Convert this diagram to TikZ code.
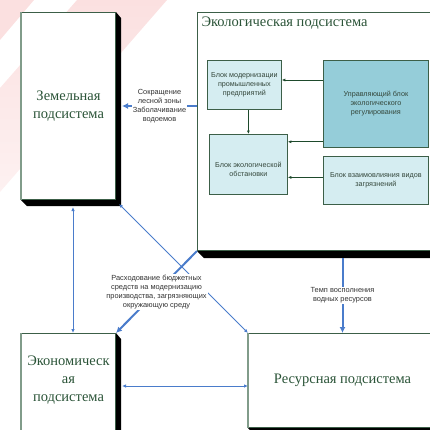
\documentclass[tikz,border=0pt]{standalone}
\usepackage{fontspec}
\setmainfont{Liberation Serif}
\newfontfamily\labelsans{Liberation Sans}
\usetikzlibrary{calc,arrows.meta}

\definecolor{frameGreen}{HTML}{3C5F48}
\definecolor{edgeGreen}{HTML}{819C8A}
\definecolor{titleGreen}{HTML}{2B5438}
\definecolor{linkBlue}{HTML}{4A7CCB}
\definecolor{blockFill}{HTML}{D5EDF1}
\definecolor{ctrlFill}{HTML}{95CDD9}
\definecolor{innerArrow}{HTML}{1E4A2C}
\definecolor{blockText}{HTML}{34473B}
\definecolor{stripe}{HTML}{FBE0E0}
\definecolor{stripeFaint}{HTML}{FDF1F1}

\begin{document}
\begin{tikzpicture}[x=1pt,y=-1pt,
  subsys/.style={draw=frameGreen, line width=1pt, fill=white, inner sep=0pt, anchor=north west},
  captiontext/.style={font=\fontsize{14.5}{18}\selectfont, text=titleGreen, align=center},
  ecoblock/.style={draw=frameGreen, line width=0.8pt, fill=blockFill, inner sep=0pt,
    anchor=north west, font=\labelsans\fontsize{7.2}{9}\selectfont, text=blockText, align=center},
  blocktext/.style={font=\labelsans\fontsize{7.2}{9}\selectfont, text=blockText, align=center},
  innerlink/.style={draw=innerArrow, line width=1pt, -{Latex[length=3.5pt,width=3pt]}},
  bigflow/.style={draw=linkBlue, line width=2pt, -{Latex[length=6pt,width=6pt]}},
  thinlink/.style={draw=linkBlue, line width=0.9pt,
    {Latex[length=4pt,width=3.5pt]}-{Latex[length=4pt,width=3.5pt]}},
  flowlabel/.style={font=\labelsans\fontsize{7.4}{9}\selectfont, text=black!80,
    align=center, fill=white, inner sep=1pt},
  dropband/.style={fill=black},
  leftedge/.style={draw=edgeGreen, line width=1.5pt}
]
\clip (0,0) rectangle (430,429);

% background stripes, fading downwards
\fill[stripe] (0,0) -- (34,0) -- (0,40) -- cycle;
\shade[top color=stripe, bottom color=stripeFaint]
  (77,0) -- (167,0) -- (0,192) -- (0,88) -- cycle;

% subsystem frames
\node[subsys, minimum width=94, minimum height=187] (land) at (21,12) {};
\node[subsys, minimum width=250, minimum height=238] (eco) at (197,12) {};
\node[subsys, minimum width=94, minimum height=110] (econ) at (21,333) {};
\node[subsys, minimum width=188, minimum height=94] (res) at (248,333) {};

% hard drop bands
\fill[dropband] (land.north east) -- ($(land.north east)+(5,6)$) -- ($(land.south east)+(5,6)$)
  -- ($(land.south west)+(6,6)$) -- (land.south west) -- (land.south east) -- cycle;
\fill[dropband] (eco.south west) -- ($(eco.south west)+(7,7)$) -- ($(eco.south east)+(7,7)$)
  -- (eco.south east) -- cycle;
\fill[dropband] (econ.north east) -- ($(econ.north east)+(5,6)$) -- ($(econ.south east)+(5,6)$)
  -- (econ.south east) -- cycle;
\fill[dropband] (res.south west) -- ($(res.south west)+(3,3)$) -- ($(res.south east)+(3,3)$)
  -- (res.south east) -- cycle;

% lighter left edges
\draw[leftedge] (land.north west) -- (land.south west);
\draw[leftedge] (econ.north west) -- (econ.south west);
\draw[leftedge] (res.north west) -- (res.south west);

% subsystem titles
\node[captiontext] (landtitle) at (land.center) {Земельная\\подсистема};
\node[captiontext] (econtitle) at ($(econ.north)+(0,47)$) {Экономическ\\ая\\подсистема};
\node[captiontext] (restitle) at (res.center) {Ресурсная подсистема};
\node[captiontext, anchor=west] (ecotitle) at ($(eco.north west)+(1,11)$) {Экологическая подсистема};

% blocks of the ecological subsystem
\node[ecoblock, minimum width=74, minimum height=49] (mod) at (207,60)
  {Блок модернизации\\промышленных\\предприятий};
\node[ecoblock, fill=ctrlFill, minimum width=105, minimum height=87] (ctrl) at (323,60)
  {Управляющий блок\\экологического\\регулирования};
\node[ecoblock, minimum width=78, minimum height=60] (env) at (209,134) {};
\node[blocktext] (envtext) at ($(env.center)+(0,5)$) {Блок экологической\\обстановки};
\node[ecoblock, minimum width=105, minimum height=48] (mut) at (323,156)
  {Блок взаимовлияния видов\\загрязнений};

% links inside the ecological subsystem
\coordinate (ctrlA) at ($(ctrl.north west)+(0,20)$);
\coordinate (ctrlB) at ($(ctrl.south west)+(0,-6)$);
\coordinate (mutA) at ($(mut.west)+(0,-3)$);
\draw[innerlink] (ctrlA) -- (ctrlA -| mod.east);
\draw[innerlink] (env.north |- mod.south) -- (env.north);
\draw[innerlink] (ctrlB) -- (ctrlB -| env.east);
\draw[innerlink] (mutA) -- (mutA -| env.east);

% thin two-way links between subsystems
\draw[thinlink] ($(land.south west)+(52,7)$) -- ($(econ.north west)+(52,0)$);
\draw[thinlink] ($(land.south east)+(3,4)$) -- (res.north west);
\draw[thinlink] ($(econ.north east)+(6,53)$) -- ($(res.north west)+(0,53)$);

% main influence flows
\draw[bigflow] (eco.west |- land.east) --
  node[flowlabel] (flowland) {Сокращение\\лесной зоны\\Заболачивание\\водоемов}
  ($(land.east)+(6,0)$);
\draw[bigflow] (eco.south west) --
  node[flowlabel] (flowecon) {Расходование бюджетных\\средств на модернизацию\\производства, загрязняющих\\окружающую среду}
  (econ.north east);
\draw[bigflow] ($(res.north |- eco.south)+(0,7)$) --
  node[flowlabel] (flowres) {Темп восполнения\\водных ресурсов}
  (res.north);
\end{tikzpicture}
\end{document}
